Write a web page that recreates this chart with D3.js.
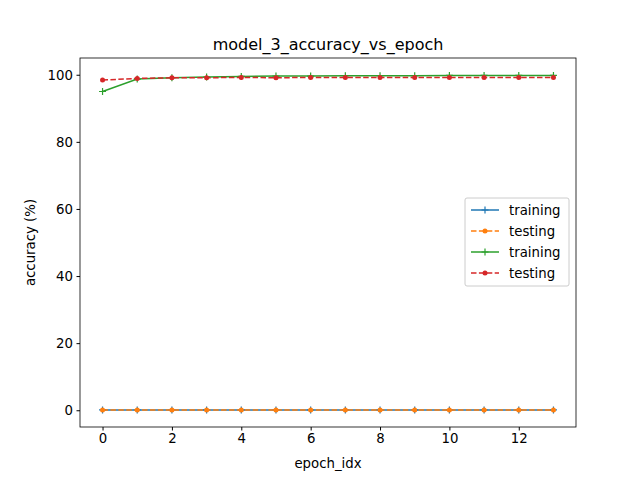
<!DOCTYPE html>
<html><head><meta charset="utf-8">
<script src="https://cdn.jsdelivr.net/npm/d3@7"></script>
<style>body{margin:0;background:#fff}text{font-family:"DejaVu Sans",sans-serif}</style>
</head><body>
<script>
const epochs = d3.range(0, 14)
const train1 = [0.1,0.1,0.1,0.1,0.1,0.1,0.1,0.1,0.1,0.1,0.1,0.1,0.1,0.1]
const test1 = [0.1,0.1,0.1,0.1,0.1,0.1,0.1,0.1,0.1,0.1,0.1,0.1,0.1,0.1]
const train2 = [95.0,98.7,99.1,99.3,99.5,99.6,99.6,99.7,99.7,99.7,99.8,99.8,99.8,99.8]
const test2 = [98.4,98.9,99.1,99.1,99.2,99.1,99.2,99.2,99.2,99.2,99.2,99.2,99.2,99.2]
const xTicks = [0,2,4,6,8,10,12]
const yTicks = [0,20,40,60,80,100]

const series = [
  {name:"training", vals:train1, color:"#1f77b4", dash:null, marker:"plus"},
  {name:"testing", vals:test1, color:"#ff7f0e", dash:"5.5,2.4", marker:"dot"},
  {name:"training", vals:train2, color:"#2ca02c", dash:null, marker:"plus"},
  {name:"testing", vals:test2, color:"#d62728", dash:"5.5,2.4", marker:"dot"}
]

const W = 640, H = 480
const m = {left:80, right:576, top:58, bottom:427}
const svg = d3.select("body").append("svg").attr("width", W).attr("height", H)

const x = d3.scaleLinear().domain([-0.65, 13.65]).range([m.left, m.right])
const y = d3.scaleLinear().domain([-4.99, 104.99]).range([m.bottom, m.top])

svg.append("g").attr("transform", `translate(0,${m.bottom})`)
  .call(d3.axisBottom(x).tickValues(xTicks).tickSize(3.5).tickPadding(3.5))
svg.append("g").attr("transform", `translate(${m.left},0)`)
  .call(d3.axisLeft(y).tickValues(yTicks).tickSize(3.5).tickPadding(3.5))
svg.selectAll(".domain").remove()
svg.selectAll(".tick text").attr("font-size", 13.3).attr("fill", "#000")
svg.selectAll(".tick line").attr("stroke", "#000")

const line = d3.line().x((d, i) => x(epochs[i])).y(d => y(d))

function marker(g, type, color, cx, cy) {
  if (type === "plus") {
    g.append("path").attr("d", `M${cx-3.5},${cy}H${cx+3.5}M${cx},${cy-3.5}V${cy+3.5}`)
      .attr("stroke", color).attr("stroke-width", 1.2)
  } else {
    g.append("circle").attr("cx", cx).attr("cy", cy).attr("r", 2.5).attr("fill", color)
  }
}

series.forEach(s => {
  const g = svg.append("g")
  g.append("path").attr("d", line(s.vals)).attr("fill", "none")
    .attr("stroke", s.color).attr("stroke-width", 1.5)
    .attr("stroke-dasharray", s.dash)
  s.vals.forEach((v, i) => marker(g, s.marker, s.color, x(epochs[i]), y(v)))
})

svg.append("rect").attr("x", m.left).attr("y", m.top)
  .attr("width", m.right - m.left).attr("height", m.bottom - m.top)
  .attr("fill", "none").attr("stroke", "#000").attr("stroke-width", 0.8)

// legend
const lg = svg.append("g")
lg.append("rect").attr("x", 465).attr("y", 198).attr("width", 104).attr("height", 88)
  .attr("rx", 2).attr("fill", "#fff").attr("fill-opacity", 0.8).attr("stroke", "#ccc")
series.forEach((s, i) => {
  const ly = 210 + i * 21
  lg.append("line").attr("x1", 471).attr("x2", 499).attr("y1", ly).attr("y2", ly)
    .attr("stroke", s.color).attr("stroke-width", 1.5).attr("stroke-dasharray", s.dash)
  marker(lg, s.marker, s.color, 485, ly)
  lg.append("text").attr("x", 509).attr("y", ly + 5).attr("font-size", 13.3).text(s.name)
})

svg.append("text").attr("x", (m.left + m.right) / 2).attr("y", 50)
  .attr("text-anchor", "middle").attr("font-size", 16).text("model_3_accuracy_vs_epoch")
svg.append("text").attr("x", (m.left + m.right) / 2).attr("y", 468)
  .attr("text-anchor", "middle").attr("font-size", 13.3).text("epoch_idx")
svg.append("text").attr("transform", `translate(35,${(m.top + m.bottom) / 2}) rotate(-90)`)
  .attr("text-anchor", "middle").attr("font-size", 13.3).text("accuracy (%)")
</script>
</body></html>
